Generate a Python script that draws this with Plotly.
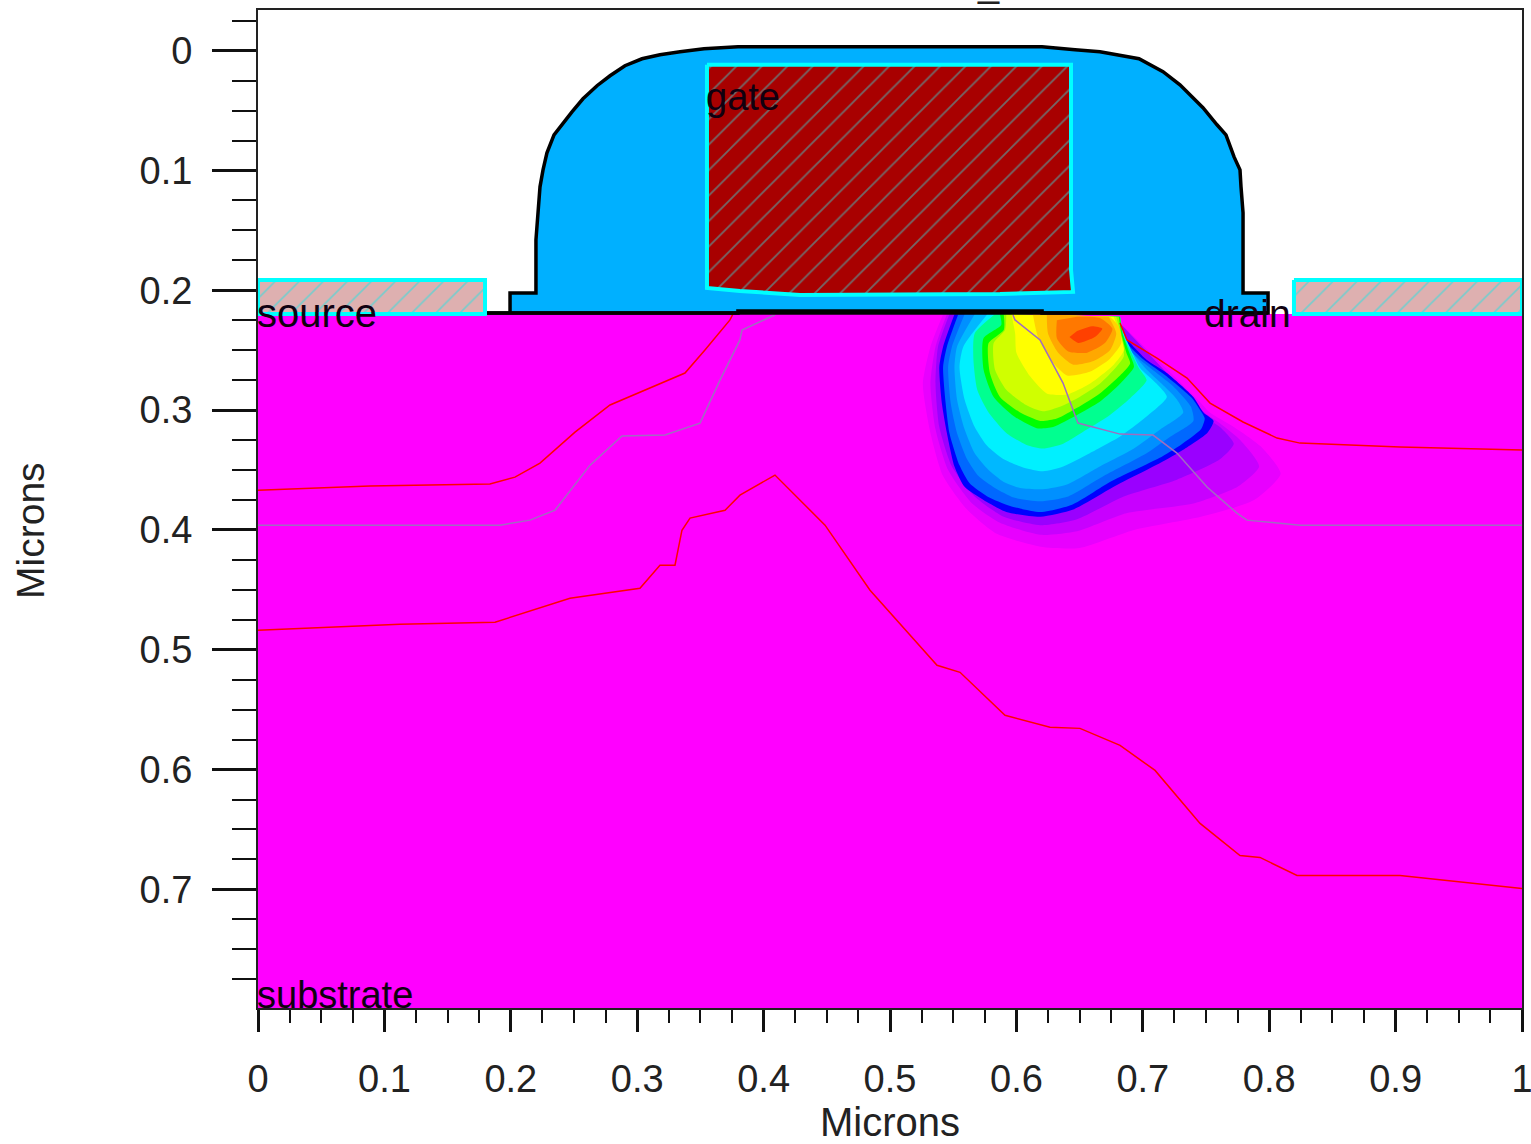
import plotly.graph_objects as go

# ---------- device geometry (microns) ----------
depth_range = [0.799, -0.034]
substrate_top = 0.2197
substrate_bottom = 0.799

oxide_x = [0.1804, 0.1994, 0.1994, 0.2199, 0.2199, 0.2215, 0.2231, 0.2255, 0.2286, 0.2342, 0.2413, 0.2484, 0.2571,
           0.2682, 0.2785, 0.2903, 0.3038, 0.3180, 0.3339, 0.3528, 0.3797, 0.6203, 0.6464, 0.6661, 0.6970, 0.7160,
           0.7294, 0.7476, 0.7587, 0.7658, 0.7722, 0.7769, 0.7777, 0.7793, 0.7793, 0.7991, 0.7991, 0.6203, 0.6203,
           0.3797, 0.3797, 0.1804]
oxide_y = [0.2189, 0.2189, 0.2022, 0.2022, 0.1579, 0.1353, 0.1136, 0.0994, 0.0852, 0.0702, 0.0602, 0.0510, 0.0401,
           0.0292, 0.0209, 0.0125, 0.0067, 0.0033, 0.0008, -0.0017, -0.0033, -0.0033, -0.0008, 0.0008, 0.0067, 0.0175,
           0.0284, 0.0476, 0.0618, 0.0702, 0.0886, 0.0994, 0.1136, 0.1353, 0.2022, 0.2022, 0.2189, 0.2189, 0.2172,
           0.2172, 0.2189, 0.2189]
oxide_base_x = [0.1804, 0.7991]
oxide_base_y = [0.2189, 0.2189]

gate_x = [0.3552, 0.6432, 0.6432, 0.6448, 0.5870, 0.4288, 0.3813, 0.3552, 0.3552]
gate_y = [0.0117, 0.0117, 0.1830, 0.2013, 0.2030, 0.2038, 0.2005, 0.1980, 0.0117]

source_x = [0.0, 0.1796, 0.1796, 0.0, 0.0]
source_y = [0.1913, 0.1913, 0.2197, 0.2197, 0.1913]
drain_x = [0.8196, 1.0, 1.0, 0.8196, 0.8196]
drain_y = [0.1913, 0.1913, 0.2197, 0.2197, 0.1913]

# ---------- junction / concentration lines ----------
red_upper_x = [0.0, 0.0886, 0.1835, 0.2033, 0.2231, 0.2508, 0.2785, 0.3101, 0.3378, 0.3536, 0.3734, 0.3758]
red_upper_y = [0.3668, 0.3634, 0.3617, 0.3559, 0.3442, 0.3183, 0.2957, 0.2815, 0.2690, 0.2498, 0.2247, 0.2197]
red_right_x = [0.6820, 0.6875, 0.7112, 0.7350, 0.7532, 0.7793, 0.8062, 0.8244, 0.9035, 1.0]
red_right_y = [0.2272, 0.2414, 0.2565, 0.2732, 0.2941, 0.3099, 0.3233, 0.3275, 0.3308, 0.3333]
red_lower_x = [0.0, 0.1123, 0.1875, 0.2191, 0.2468, 0.3022, 0.3180, 0.3299, 0.3354, 0.3418, 0.3695, 0.3813, 0.4090,
               0.4486, 0.4842, 0.5372, 0.5554, 0.5910, 0.6266, 0.6503, 0.6820, 0.7097, 0.7453, 0.7769, 0.7927, 0.8220,
               0.9035, 1.0]
red_lower_y = [0.4837, 0.4787, 0.4770, 0.4662, 0.4570, 0.4486, 0.4294, 0.4294, 0.4002, 0.3901, 0.3835, 0.3709, 0.3542,
               0.3960, 0.4503, 0.5129, 0.5188, 0.5547, 0.5647, 0.5656, 0.5798, 0.6007, 0.6449, 0.6717, 0.6733, 0.6884,
               0.6884, 0.6992]
violet_left_x = [0.0, 0.1915, 0.2152, 0.2350, 0.2627, 0.2880, 0.3220, 0.3497, 0.3655, 0.3813, 0.3829, 0.4090]
violet_left_y = [0.3960, 0.3960, 0.3918, 0.3835, 0.3459, 0.3216, 0.3208, 0.3108, 0.2749, 0.2414, 0.2331, 0.2205]
violet_right_x = [0.5973, 0.5989, 0.6187, 0.6369, 0.6487, 0.6820, 0.7081, 0.7270, 0.7508, 0.7745, 0.7824, 0.8244, 1.0]
violet_right_y = [0.2205, 0.2247, 0.2414, 0.2774, 0.3108, 0.3200, 0.3208, 0.3358, 0.3642, 0.3860, 0.3918, 0.3960, 0.3960]

# ---------- heat contours, outermost to innermost ----------
h01x = [.542,.532,.526,.532,.542,.561,.584,.619,.650,.693,.746,.788,.809,.793,.772,.753,.746,.677]
h01y = [.220,.247,.278,.319,.355,.383,.403,.414,.415,.400,.389,.375,.353,.330,.314,.302,.294,.222]
h02x = [.545,.536,.532,.536,.546,.565,.587,.619,.648,.687,.740,.775,.792,.777,.761,.749,.677]
h02y = [.220,.247,.278,.316,.350,.378,.394,.404,.401,.386,.378,.364,.347,.325,.311,.302,.222]
h03x = [.547,.538,.536,.539,.549,.567,.590,.619,.648,.685,.727,.761,.772,.761,.751,.747,.677]
h03y = [.220,.247,.278,.314,.347,.372,.389,.396,.391,.372,.358,.341,.328,.314,.307,.301,.222]
h04x = [.551,.542,.539,.541,.545,.551,.559,.574,.592,.619,.645,.677,.714,.732,.751,.756,.748,.740,.719,.703,.690,.679,.677]
h04y = [.220,.247,.264,.294,.319,.347,.364,.375,.385,.389,.383,.364,.344,.333,.319,.309,.302,.289,.269,.258,.244,.230,.222]
h05x = [.554,.545,.542,.544,.547,.555,.563,.577,.595,.619,.644,.674,.713,.730,.746,.749,.746,.739,.718,.702,.690,.681,.678]
h05y = [.220,.247,.264,.294,.319,.346,.361,.372,.380,.385,.379,.360,.340,.329,.316,.307,.301,.290,.271,.259,.247,.232,.222]
h06x = [.559,.549,.546,.548,.553,.561,.570,.583,.598,.619,.641,.669,.703,.722,.740,.738,.724,.711,.699,.687,.681,.679]
h06y = [.220,.247,.264,.294,.319,.341,.355,.365,.373,.376,.372,.355,.336,.322,.309,.297,.280,.269,.259,.247,.230,.222]
h07x = [.567,.553,.551,.553,.559,.567,.578,.590,.603,.621,.640,.666,.693,.714,.732,.727,.715,.703,.694,.685,.681]
h07y = [.220,.247,.264,.291,.316,.336,.350,.360,.365,.366,.362,.347,.332,.316,.302,.291,.278,.266,.255,.241,.222]
h08x = [.577,.558,.555,.559,.567,.577,.590,.606,.621,.637,.658,.682,.701,.719,.711,.698,.693,.685,.682]
h08y = [.220,.247,.264,.291,.314,.330,.341,.348,.351,.347,.336,.322,.307,.289,.278,.265,.255,.236,.222]
h09x = [.583,.567,.566,.569,.578,.592,.608,.621,.637,.656,.674,.690,.703,.697,.691,.684,.682]
h09y = [.220,.236,.258,.283,.302,.319,.329,.332,.328,.316,.304,.290,.275,.265,.252,.236,.222]
h10x = [.587,.588,.574,.574,.582,.598,.616,.629,.648,.666,.682,.693,.690,.684,.682]
h10y = [.220,.229,.240,.266,.289,.305,.315,.314,.304,.293,.278,.264,.254,.236,.222]
h11x = [.590,.590,.578,.579,.587,.603,.619,.632,.648,.666,.682,.690,.687,.683,.681]
h11y = [.220,.233,.244,.269,.289,.302,.309,.307,.298,.286,.271,.261,.252,.236,.222]
h12x = [.592,.591,.582,.583,.592,.608,.621,.635,.650,.666,.679,.685,.683,.679]
h12y = [.220,.233,.244,.266,.283,.296,.301,.297,.289,.278,.264,.255,.239,.222]
h13x = [.596,.599,.600,.611,.624,.640,.658,.677,.685,.682,.677]
h13y = [.220,.236,.252,.272,.286,.287,.278,.262,.250,.236,.222]
h14x = [.613,.617,.627,.640,.658,.674,.683,.681,.674]
h14y = [.220,.239,.258,.271,.268,.257,.244,.230,.222]
h15x = [.624,.625,.633,.645,.661,.674,.679,.673]
h15y = [.220,.236,.252,.262,.259,.250,.236,.222]
h16x = [.632,.632,.641,.656,.670,.676,.666,.648]
h16y = [.225,.240,.251,.252,.244,.232,.223,.222]
h17x = [.642,.649,.662,.668,.660,.648]
h17y = [.239,.244,.239,.232,.230,.234]

heat_contours = [(h01x, h01y), (h02x, h02y), (h03x, h03y), (h04x, h04y), (h05x, h05y), (h06x, h06y), (h07x, h07y),
                 (h08x, h08y), (h09x, h09y), (h10x, h10y), (h11x, h11y), (h12x, h12y), (h13x, h13y), (h14x, h14y),
                 (h15x, h15y), (h16x, h16y), (h17x, h17y)]
heat_colors = ["#e800ff", "#c800ff", "#9a00ff", "#0000ff", "#0068ff", "#0090ff", "#00b8ff", "#00f0ff", "#00ff90",
               "#00ff00", "#90ff00", "#d0ff00", "#ffff00", "#ffd400", "#ffa800", "#ff7800", "#ff4000"]

x_ticks = [0, 0.1, 0.2, 0.3, 0.4, 0.5, 0.6, 0.7, 0.8, 0.9, 1]
x_labels = ["0", "0.1", "0.2", "0.3", "0.4", "0.5", "0.6", "0.7", "0.8", "0.9", "1"]
y_ticks = [0, 0.1, 0.2, 0.3, 0.4, 0.5, 0.6, 0.7]
y_labels = ["0", "0.1", "0.2", "0.3", "0.4", "0.5", "0.6", "0.7"]

region_names = ["gate", "source", "drain", "substrate"]
region_x = [0.3552, 0.0, 0.7490, 0.0]
region_y = [0.0385, 0.2190, 0.2190, 0.7885]
region_sizes = [38, 40, 39, 38]

FONT = "Liberation Sans, Arial, sans-serif"
fig = go.Figure()


def poly(x, y, **kw):
    fig.add_trace(go.Scatter(x=x, y=y, mode="lines", fill="toself", hoverinfo="skip", showlegend=False, **kw))


poly([0, 1, 1, 0, 0], [substrate_top, substrate_top, substrate_bottom, substrate_bottom, substrate_top],
     line=dict(width=0), fillcolor="#ff00ff")
for (hx, hy), col in zip(heat_contours, heat_colors):
    poly(hx, hy, line=dict(width=0, shape="spline", smoothing=0.6), fillcolor=col)

for lx, ly in [(red_upper_x, red_upper_y), (red_right_x, red_right_y), (red_lower_x, red_lower_y)]:
    fig.add_trace(go.Scatter(x=lx, y=ly, mode="lines", line=dict(color="#ff0000", width=1.5),
                             hoverinfo="skip", showlegend=False))
for lx, ly in [(violet_left_x, violet_left_y), (violet_right_x, violet_right_y)]:
    fig.add_trace(go.Scatter(x=lx, y=ly, mode="lines", line=dict(color="#a06cc0", width=1.5),
                             hoverinfo="skip", showlegend=False))

poly(oxide_x, oxide_y, line=dict(color="#000000", width=3.5), fillcolor="#00b0ff")
fig.add_trace(go.Scatter(x=oxide_base_x, y=oxide_base_y, mode="lines", line=dict(color="#000000", width=3.5),
                         hoverinfo="skip", showlegend=False))
poly(gate_x, gate_y, line=dict(color="#00ffff", width=4), fillcolor="#a80000",
     fillpattern=dict(shape="/", bgcolor="#a80000", fgcolor="#40d0d0", size=18, solidity=0.1))
for sx, sy in [(source_x, source_y), (drain_x, drain_y)]:
    poly(sx, sy, line=dict(color="#00ffff", width=4), fillcolor="#deb0b0",
         fillpattern=dict(shape="/", bgcolor="#deb0b0", fgcolor="#10e8e8", size=17, solidity=0.1))

for name, nx, ny, ns in zip(region_names, region_x, region_y, region_sizes):
    fig.add_annotation(x=nx, y=ny, text=name, showarrow=False, xanchor="left", yanchor="middle", borderpad=0,
                       xshift=-2, font=dict(family=FONT, size=ns, color="#100010"))
# clipped title descender at the very top edge
fig.add_annotation(xref="paper", yref="paper", x=0.5781, y=1.027, text="_", showarrow=False, yanchor="middle",
                   font=dict(family=FONT, size=38, color="#222222"))
# y axis title sits below the plot's mid-height in the original
fig.add_annotation(xref="paper", yref="paper", x=-0.1796, y=0.479, text="Microns", showarrow=False, textangle=-90,
                   xanchor="center", yanchor="middle", font=dict(family=FONT, size=39, color="#222222"))

axis_common = dict(showgrid=False, zeroline=False, showline=True, linecolor="#222222", linewidth=2, mirror=True,
                   automargin=False, ticks="outside", tickcolor="#111111", tickwidth=3,
                   ticklabeloverflow="allow", tickfont=dict(family=FONT, size=38, color="#222222"))
fig.update_layout(
    width=1531, height=1144, autosize=False, margin=dict(l=258, r=9, t=10, b=136),
    paper_bgcolor="#ffffff", plot_bgcolor="#ffffff", showlegend=False,
    xaxis=dict(range=[0, 1], tickvals=x_ticks, ticktext=x_labels, ticklen=22, ticklabelstandoff=14,
               minor=dict(dtick=0.025, tick0=0, ticks="outside", ticklen=13, tickwidth=2, tickcolor="#111111", showgrid=False),
               title=dict(text="Microns", standoff=10, font=dict(family=FONT, size=40, color="#222222")), **axis_common),
    yaxis=dict(range=depth_range, tickvals=y_ticks, ticktext=y_labels, ticklen=44, ticklabelstandoff=12,
               minor=dict(dtick=0.025, tick0=0, ticks="outside", ticklen=24, tickwidth=2, tickcolor="#111111", showgrid=False),
               **axis_common),
)

fig.write_html("out.html", config=dict(displayModeBar=False),
               post_script="document.body.style.margin='0';document.documentElement.style.overflow='hidden';")
